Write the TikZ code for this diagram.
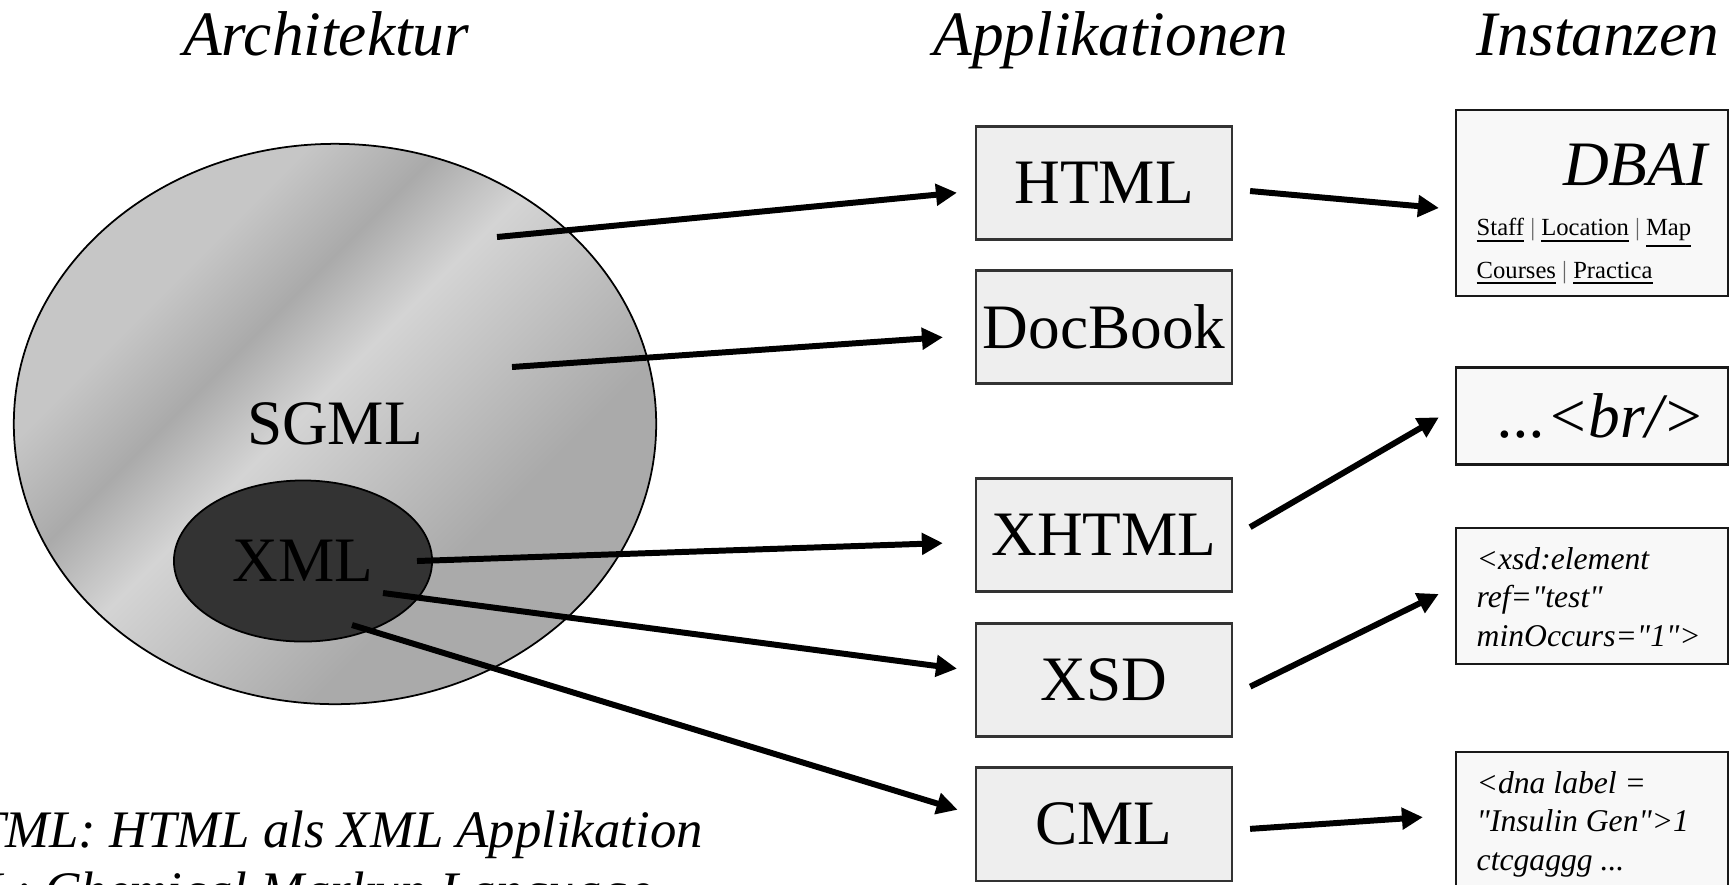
\documentclass[tikz,border=0pt]{standalone}
\usepackage{fontspec}
\setmainfont{Liberation Serif}[Ligatures=TeXOff]
\usetikzlibrary{shapes.geometric, arrows.meta, positioning}
\definecolor{appgray}{RGB}{238,238,238}
\definecolor{instgray}{RGB}{248,248,248}
\definecolor{xmldark}{RGB}{51,51,51}
\definecolor{sgmllight}{RGB}{212,212,212}
\definecolor{sgmldark}{RGB}{170,170,170}
\definecolor{sgmlmid}{RGB}{198,198,198}
\pgfdeclarehorizontalshading{sgmlstripes}{100bp}{color(0bp)=(sgmlmid); color(32bp)=(sgmlmid); color(40bp)=(sgmldark); color(47.5bp)=(sgmllight); color(65bp)=(sgmldark); color(100bp)=(sgmldark)}
\tikzset{
  heading/.style={anchor=base, inner sep=0pt, font=\fontsize{18}{20}\selectfont\itshape},
  appbox/.style={draw=black!80, fill=appgray, line width=0.6pt, minimum width=2.56cm, minimum height=1.13cm, inner sep=0pt, font=\fontsize{18}{20}\selectfont},
  instbox/.style={draw=black!90, fill=instgray, line width=0.6pt, minimum width=2.72cm, inner sep=0pt},
  insttext/.style={anchor=base west, inner sep=0pt, align=left, font=\fontsize{9}{10.95}\selectfont\itshape},
  conn/.style={line width=1.7pt, -{Triangle[length=0.21cm, width=0.21cm]}},
}
\begin{document}
\begin{tikzpicture}[x=0.01cm, y=-0.01cm]
  \useasboundingbox (0,0) rectangle (1731,884);
  \clip (0,0) rectangle (1731,884);

  % Headings
  \node[heading] (h-arch) at (326,55) {Architektur};
  \node[heading] (h-app) at (1111,55) {Applikationen};
  \node[heading] (h-inst) at (1598,55) {Instanzen};

  % Architektur
  \node[ellipse, draw=black, line width=0.5pt, shade, shading=sgmlstripes, shading angle=-45, minimum width=6.42cm, minimum height=5.6cm, inner sep=0pt, font=\fontsize{18}{20}\selectfont] (sgml) at (335,424) {SGML};
  \node[ellipse, draw=black, line width=0.5pt, fill=xmldark, minimum width=2.58cm, minimum height=1.61cm, inner sep=0pt, font=\fontsize{18}{20}\selectfont] (xml) at (303,561) {XML};

  \coordinate (sgml-a) at (497,237);
  \coordinate (sgml-b) at (512,367);
  \coordinate (xml-a) at (417,561);
  \coordinate (xml-b) at (383,593);
  \coordinate (xml-c) at (352,625);

  % Applikationen
  \node[appbox] (html) at (1104,183) {HTML};
  \node[appbox] (docbook) at (1104,327) {DocBook};
  \node[appbox] (xhtml) at (1104,535) {XHTML};
  \node[appbox] (xsd) at (1104,680) {XSD};
  \node[appbox] (cml) at (1104,824) {CML};

  % Instanzen
  \node[instbox, minimum height=1.86cm] (dbai) at (1592,203) {};
  \node[anchor=base east, inner sep=0pt, font=\fontsize{18}{20}\selectfont\itshape] (dbai-title) at (1708,185) {DBAI};
  \node[anchor=base west, inner sep=0pt, align=left, font=\fontsize{7}{11.95}\selectfont] (dbai-links) at (1476,278) {\underline{Staff} {\color{black!60}|} \underline{Location} {\color{black!60}|} \underline{Map}\\ \underline{Courses} {\color{black!60}|} \underline{Practica}};

  \node[instbox, minimum height=0.97cm, font=\fontsize{18}{20}\selectfont\itshape] (br) at (1592,416) {\hspace{0.2cm}...<br/>};

  \node[instbox, minimum height=1.36cm] (xsdinst) at (1592,596) {};
  \node[insttext] (xsdinst-text) at (1476,646) {<xsd:element\\ ref="test"\\ minOccurs="1">};

  \node[instbox, minimum height=1.36cm] (dna) at (1592,820) {};
  \node[insttext] (dna-text) at (1476,870) {<dna label =\\ "Insulin Gen">1\\ ctcgaggg ...};

  % Pfeile
  \draw[conn, shorten >=0.18cm] (sgml-a) -- ([yshift=-0.08cm]html.west);
  \draw[conn, shorten >=0.32cm] (sgml-b) -- ([yshift=-0.08cm]docbook.west);
  \draw[conn, shorten >=0.32cm] (xml-a) -- ([yshift=-0.07cm]xhtml.west);
  \draw[conn, shorten >=0.18cm] (xml-b) -- ([yshift=0.09cm]xsd.west);
  \draw[conn, shorten >=0.18cm] (xml-c) -- ([yshift=0.09cm]cml.west);

  \draw[conn, shorten <=0.17cm, shorten >=0.16cm] ([yshift=-0.065cm]html.east) -- ([yshift=-0.064cm]dbai.west);
  \draw[conn, shorten <=0.196cm, shorten >=0.185cm] ([yshift=-0.02cm]xhtml.east) -- ([yshift=0.08cm]br.west);
  \draw[conn, shorten <=0.19cm, shorten >=0.18cm] ([yshift=-0.15cm]xsd.east) -- ([yshift=0.10cm]xsdinst.west);
  \draw[conn, shorten <=0.17cm, shorten >=0.32cm] ([yshift=-0.06cm]cml.east) -- ([yshift=0.05cm]dna.west);

  % Erklaerung
  \node[anchor=base west, inner sep=0pt, align=left, font=\fontsize{15}{17.07}\selectfont\itshape] (note) at (-95,908) {XHTML: HTML als XML Applikation\\ CML: Chemical Markup Language};
\end{tikzpicture}
\end{document}
